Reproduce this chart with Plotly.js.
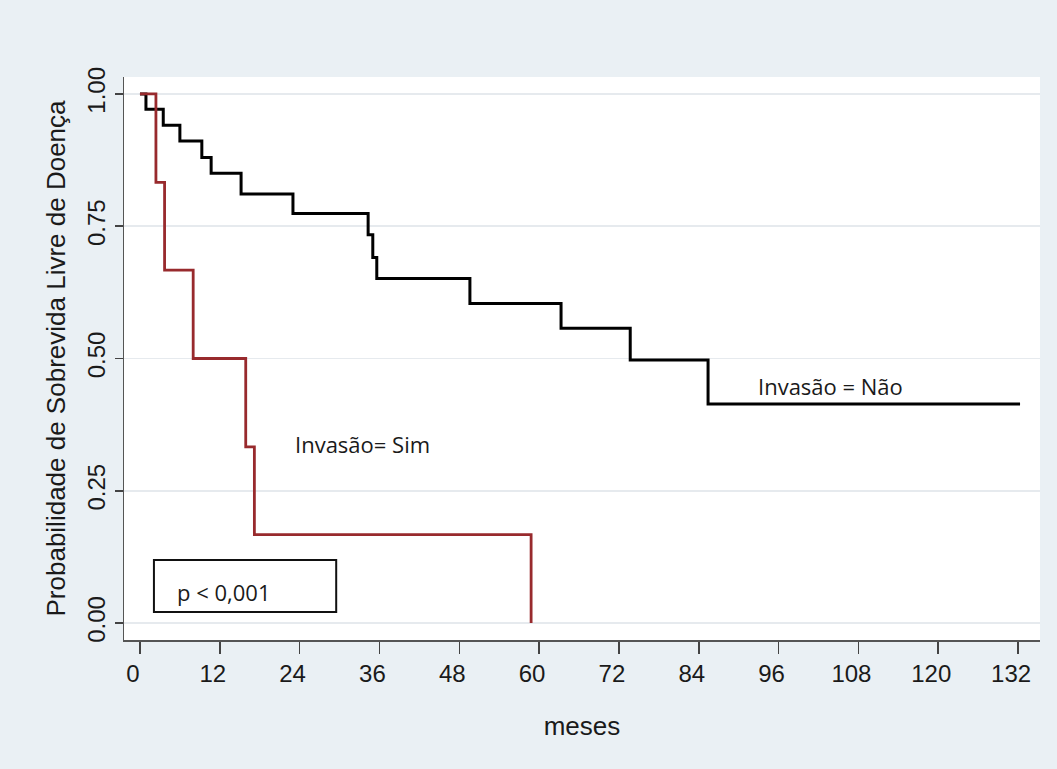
<!DOCTYPE html>
<html>
<head>
<meta charset="utf-8">
<script src="https://cdn.plot.ly/plotly-3.0.1.min.js"></script>
<style>html,body{margin:0;padding:0;background:#eaf0f4;}</style>
</head>
<body>
<div id="chart" style="width:1057px;height:769px;"></div>
<script>
// Kaplan-Meier estimates
const naoTimes = [0, 0.9, 3.5, 6.0, 9.3, 10.7, 15.2, 23.0, 34.3, 35.0, 35.6, 49.6, 63.3, 73.7, 85.4, 132.3];
const naoSurv  = [1, 0.971, 0.941, 0.911, 0.880, 0.850, 0.811, 0.774, 0.734, 0.691, 0.651, 0.604, 0.557, 0.497, 0.414, 0.414];
const simTimes = [0, 2.4, 3.7, 8.0, 15.9, 17.2, 58.8];
const simSurv  = [1, 0.833, 0.667, 0.5, 0.333, 0.167, 0];
const xTicks = [0, 12, 24, 36, 48, 60, 72, 84, 96, 108, 120, 132];
const yTicks = [0, 0.25, 0.5, 0.75, 1];
const labelNao = 'Invasão = Não';
const labelSim = 'Invasão= Sim';
const pText = 'p < 0,001';
const xTitle = 'meses';
const yTitle = 'Probabilidade de Sobrevida Livre de Doença';

const traces = [
  {x: naoTimes, y: naoSurv, mode: 'lines', line: {shape: 'hv', color: '#000000', width: 3}, name: labelNao, hoverinfo: 'skip'},
  {x: simTimes, y: simSurv, mode: 'lines', line: {shape: 'hv', color: '#982a2d', width: 2.8}, name: labelSim, hoverinfo: 'skip'}
];

const tickFont = {family: 'Liberation Sans, Arial, sans-serif', size: 24, color: '#1a1a1a'};
const titleFont = {family: 'Liberation Sans, Arial, sans-serif', size: 26, color: '#1a1a1a'};
const annFont = {family: 'Open Sans, sans-serif', size: 22, color: '#1a1a1a'};

const layout = {
  width: 1057, height: 769,
  margin: {l: 124, r: 17, t: 77, b: 129},
  paper_bgcolor: '#eaf0f4',
  plot_bgcolor: '#ffffff',
  showlegend: false,
  xaxis: {
    range: [-2.4, 135.3], tickvals: xTicks, ticks: 'outside', ticklen: 12, tickwidth: 1.5, tickcolor: '#444',
    ticklabelshift: -7,
    showline: true, linecolor: '#555', linewidth: 1.5, showgrid: false, zeroline: false,
    tickfont: tickFont, title: {text: xTitle, font: titleFont, standoff: 30}
  },
  yaxis: {
    range: [-0.032, 1.032], tickvals: yTicks, tickformat: '.2f', tickangle: -90,
    ticks: 'outside', ticklen: 8, tickwidth: 1.5, tickcolor: '#444',
    showline: true, linecolor: '#555', linewidth: 1.5, showgrid: true, gridcolor: '#e6eaee', gridwidth: 1.5,
    zeroline: false, tickfont: tickFont, title: {text: yTitle, font: titleFont, standoff: 10}
  },
  shapes: [
    {type: 'rect', xref: 'x', yref: 'y', x0: 2.1, x1: 29.5, y0: 0.021, y1: 0.119, line: {color: '#111', width: 2}, fillcolor: 'rgba(255,255,255,0)'}
  ],
  annotations: [
    {x: 103.8, y: 0.448, xref: 'x', yref: 'y', text: labelNao, showarrow: false, font: annFont},
    {x: 33.5, y: 0.338, xref: 'x', yref: 'y', text: labelSim, showarrow: false, font: annFont},
    {x: 5.3, y: 0.059, xref: 'x', yref: 'y', text: pText, showarrow: false, xanchor: 'left', font: annFont}
  ]
};

Plotly.newPlot('chart', traces, layout, {displayModeBar: false, staticPlot: true});
</script>
</body>
</html>
